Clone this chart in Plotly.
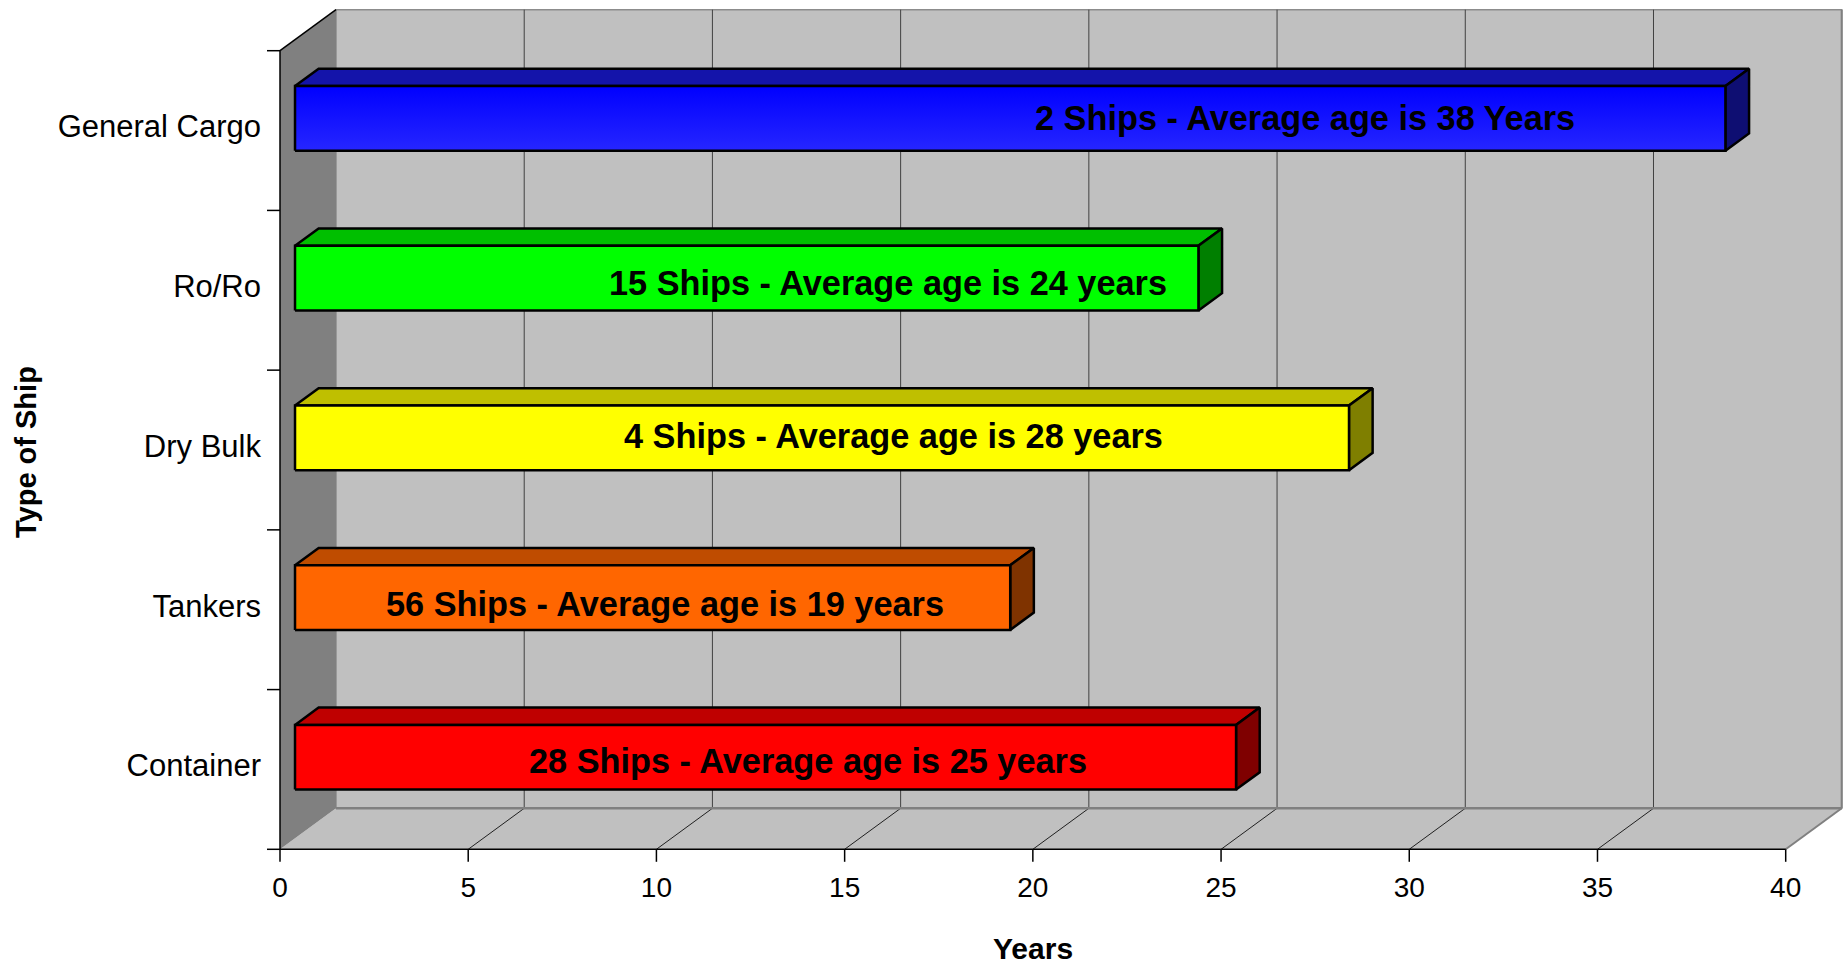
import plotly.graph_objects as go

# ---------------- data ----------------
categories = ["Container", "Tankers", "Dry Bulk", "Ro/Ro", "General Cargo"]
avg_age = [25, 19, 28, 24, 38]
ship_count = [28, 56, 4, 15, 2]
age_unit = ["years", "years", "years", "years", "Years"]
x_ticks = [0, 5, 10, 15, 20, 25, 30, 35, 40]
bar_labels = [f"{n} Ships - Average age is {a} {u}" for n, a, u in zip(ship_count, avg_age, age_unit)]

# ---------------- styles ----------------
front_colors = ["#FF0000", "#FF6600", "#FFFF00", "#00FF00", "#0000FF"]
top_colors = ["#BF0000", "#BF4C00", "#BFBF00", "#00BF00", "#1414AA"]
side_colors = ["#7F0000", "#7F3300", "#7F7F00", "#007F00", "#0E0E72"]
label_x = [14.03, 10.23, 16.31, 16.15, 27.23]   # label centres (years)
label_dy_px = [-1.0, -3.5, 4.7, -2.4, 3.5]      # label vertical nudges (px, + = up)
FONT = "Liberation Sans, Arial, sans-serif"

# ---------------- geometry (pixels of the page) ----------------
W, H = 1845, 964
X0PX, X40PX = 280.0, 1785.7          # front plane: value 0 and 40
YBASE, YTOP = 849.3, 50.7            # front plane: category 0 and 5
PLOT_L, PLOT_B = 262, 868
XPPU = (X40PX - X0PX) / 40.0
YPPU = (YBASE - YTOP) / 5.0
DX = 56.0 / XPPU                     # depth offset in axis units
DY = 41.0 / YPPU
F0, F1 = 0.268, 0.69                 # bar depth fractions
B0, B1 = 0.305, 0.71                 # bar extent inside category
XMAX = x_ticks[-1]
NCAT = len(categories)

xr = [(PLOT_L - X0PX) / XPPU, (W - X0PX) / XPPU]
yr = [-(PLOT_B - YBASE) / YPPU, YBASE / YPPU]
plot_w = W - PLOT_L


def path(pts):
    return "M " + " L ".join(f"{x},{y}" for x, y in pts) + " Z"


def seg(x0, y0, x1, y1, color, width):
    return dict(type="line", xref="x", yref="y", x0=x0, y0=y0, x1=x1, y1=y1,
                line=dict(color=color, width=width), layer="below")


shapes = []
# back wall
shapes.append(dict(type="rect", xref="x", yref="y", x0=DX, x1=XMAX + DX, y0=DY, y1=NCAT + DY,
                   fillcolor="#C0C0C0", line=dict(color="#8C8C8C", width=1.5), layer="below"))
# floor
shapes.append(dict(type="path", xref="x", yref="y",
                   path=path([(0, 0), (XMAX, 0), (XMAX + DX, DY), (DX, DY)]),
                   fillcolor="#C0C0C0", line=dict(width=0), layer="below"))
# left wall
shapes.append(dict(type="path", xref="x", yref="y",
                   path=path([(0, 0), (0, NCAT), (DX, NCAT + DY), (DX, DY)]),
                   fillcolor="#808080", line=dict(width=0), layer="below"))
# gridlines on back wall and floor
for t in x_ticks[1:-1]:
    shapes.append(seg(t + DX, DY, t + DX, NCAT + DY, "#404040", 1))
    shapes.append(seg(t, 0, t + DX, DY, "#202020", 1))
# edges
shapes.append(seg(DX, DY, XMAX + DX, DY, "#808080", 2.5))
shapes.append(seg(XMAX + DX, DY, XMAX + DX, NCAT + DY, "#808080", 2))
shapes.append(seg(XMAX, 0, XMAX + DX, DY, "#808080", 2))
shapes.append(seg(0, NCAT, DX, NCAT + DY, "#000000", 1.5))
shapes.append(seg(0, 0, 0, NCAT, "#000000", 1.5))
shapes.append(seg(0, 0, XMAX, 0, "#000000", 1.5))
# tick marks
for t in x_ticks:
    shapes.append(seg(t, 0, t, -12.5 / YPPU, "#000000", 1.5))
for c in range(NCAT + 1):
    shapes.append(seg(-13.0 / XPPU, c, 0, c, "#000000", 1.5))

fig = go.Figure()

annotations = []
for i, (v, lab) in enumerate(zip(avg_age, bar_labels)):
    yb, yt = i + B0, i + B1
    fx, fy = F0 * DX, F0 * DY
    bx, by = F1 * DX, F1 * DY
    top = [(fx, yt + fy), (v + fx, yt + fy), (v + bx, yt + by), (bx, yt + by), (fx, yt + fy)]
    side = [(v + fx, yb + fy), (v + bx, yb + by), (v + bx, yt + by), (v + fx, yt + fy), (v + fx, yb + fy)]
    front = [(fx, yb + fy), (v + fx, yb + fy), (v + fx, yt + fy), (fx, yt + fy), (fx, yb + fy)]
    for pts, col in ((top, top_colors[i]), (side, side_colors[i])):
        fig.add_trace(go.Scatter(x=[p[0] for p in pts], y=[p[1] for p in pts], mode="lines",
                                 fill="toself", fillcolor=col, line=dict(color="black", width=2.5),
                                 hoverinfo="skip", showlegend=False))
    kw = {}
    if i == NCAT - 1:
        kw["fillgradient"] = dict(type="vertical", colorscale=[[0, "#2626FF"], [1, "#0000FF"]])
    fig.add_trace(go.Scatter(x=[p[0] for p in front], y=[p[1] for p in front], mode="lines",
                             fill="toself", fillcolor=front_colors[i],
                             line=dict(color="black", width=2.5),
                             hoverinfo="skip", showlegend=False, **kw))
    annotations.append(dict(x=label_x[i], y=(yb + yt) / 2 + fy + (label_dy_px[i] - 3.0) / YPPU,
                            xref="x", yref="y", text=lab, showarrow=False,
                            font=dict(family=FONT, size=34.3, color="black", weight="bold")))

# axis titles
annotations.append(dict(x=XMAX / 2, xref="x", y=(PLOT_B - 948.0) / PLOT_B, yref="paper",
                        yanchor="middle", text="Years", showarrow=False,
                        font=dict(family=FONT, size=30, color="black", weight="bold")))
annotations.append(dict(x=(26.0 - PLOT_L) / plot_w, xref="paper", xanchor="center",
                        y=(YBASE - 452.0) / YPPU, yref="y", text="Type of Ship", textangle=-90,
                        showarrow=False,
                        font=dict(family=FONT, size=29, color="black", weight="bold")))

fig.update_layout(
    width=W, height=H,
    margin=dict(l=PLOT_L, r=0, t=0, b=H - PLOT_B),
    paper_bgcolor="white", plot_bgcolor="white",
    shapes=shapes, annotations=annotations,
    font=dict(family=FONT, color="black"),
    xaxis=dict(range=xr, tickvals=x_ticks, ticktext=[str(t) for t in x_ticks],
               ticks="", showgrid=False, zeroline=False, showline=False, fixedrange=True,
               tickfont=dict(size=28, family=FONT, color="black")),
    yaxis=dict(range=yr, tickvals=[i + 0.5 + 4.0 / YPPU for i in range(NCAT)], ticktext=categories,
               ticks="", showgrid=False, zeroline=False, showline=False, fixedrange=True,
               tickfont=dict(size=31, family=FONT, color="black")),
)

fig.write_html("out.html", config={"displayModeBar": False},
               post_script="document.body.style.margin='0';")
